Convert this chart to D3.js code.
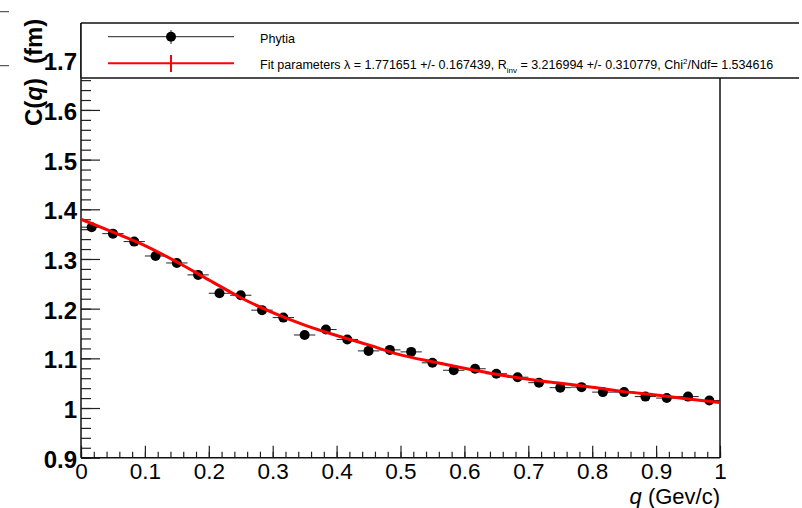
<!DOCTYPE html>
<html>
<head>
<meta charset="utf-8">
<script src="https://cdn.jsdelivr.net/npm/d3@7"></script>
<style>
  body { margin: 0; background: #fff; }
  svg { display: block; font-family: "Liberation Sans", Arial, sans-serif; }
</style>
</head>
<body>
<div id="chart"></div>
<script>
// histogram bin centres (q, GeV/c) and measured correlation C(q)
var qValues = [0.0167, 0.05, 0.0833, 0.1167, 0.15, 0.1833, 0.2167, 0.25, 0.2833, 0.3167,
               0.35, 0.3833, 0.4167, 0.45, 0.4833, 0.5167, 0.55, 0.5833, 0.6167, 0.65,
               0.6833, 0.7167, 0.75, 0.7833, 0.8167, 0.85, 0.8833, 0.9167, 0.95, 0.9833];
var cValues = [1.364, 1.351, 1.335, 1.306, 1.292, 1.268, 1.231, 1.227, 1.197, 1.182,
               1.147, 1.158, 1.138, 1.115, 1.117, 1.113, 1.091, 1.076, 1.079, 1.069,
               1.062, 1.051, 1.041, 1.042, 1.032, 1.032, 1.023, 1.020, 1.023, 1.015];
var qHalfWidth = 0.0167;

// fit curve
var fitQ = [0, 0.05, 0.1, 0.15, 0.2, 0.25, 0.3, 0.35, 0.4, 0.45, 0.5,
            0.55, 0.6, 0.65, 0.7, 0.75, 0.8, 0.85, 0.9, 0.95, 1.0];
var fitC = [1.380, 1.354, 1.327, 1.294, 1.258, 1.222, 1.192, 1.167, 1.146, 1.127, 1.107,
            1.093, 1.080, 1.068, 1.058, 1.050, 1.042, 1.033, 1.026, 1.018, 1.011];

var xMajor = [0, 0.1, 0.2, 0.3, 0.4, 0.5, 0.6, 0.7, 0.8, 0.9, 1];
var xMinor = d3.range(0, 1.0001, 0.02);
var yMajor = [0.9, 1, 1.1, 1.2, 1.3, 1.4, 1.5, 1.6, 1.7];
var yMinor = d3.range(0.9, 1.775, 0.02);

var legendLabels = ["Phytia", "Fit parameters"];

var W = 802, H = 508;
var frame = {left: 81, right: 720, top: 23, bottom: 457.7};

var svg = d3.select('#chart').append('svg')
    .attr('width', W).attr('height', H);

var x = d3.scaleLinear().domain([0, 1]).range([frame.left, frame.right]);
var y = d3.scaleLinear().domain([0.9, 1.775]).range([frame.bottom, frame.top]);

// stray marks at the left edge
svg.append('line').attr('x1', 0).attr('x2', 9).attr('y1', 11.7).attr('y2', 11.7)
    .attr('stroke', '#333').attr('stroke-width', 1);
svg.append('line').attr('x1', 0).attr('x2', 9).attr('y1', 65.7).attr('y2', 65.7)
    .attr('stroke', '#333').attr('stroke-width', 1);

/**
 *  AXES
 */
var axisStyle = function(g) {
    g.select('.domain').remove();
    g.selectAll('.tick line').attr('stroke', '#222').attr('stroke-width', 1.2);
}

var $xMinor = svg.append('g')
    .attr('transform', 'translate(0,' + frame.bottom + ')')
    .call(d3.axisBottom(x).tickValues(xMinor).tickSize(-6).tickFormat(''))
    .call(axisStyle);

var $xMajor = svg.append('g')
    .attr('transform', 'translate(0,' + frame.bottom + ')')
    .call(d3.axisBottom(x).tickValues(xMajor).tickSize(-12).tickPadding(5.5)
          .tickFormat(function(d) { return d3.format('')(+d.toFixed(1)); }))
    .call(axisStyle);
$xMajor.selectAll('text')
    .attr('fill', '#000')
    .style('font-size', '22.5px')
    .style('font-family', '"Liberation Sans", Arial, sans-serif');

var $yMinor = svg.append('g')
    .attr('transform', 'translate(' + frame.left + ',0)')
    .call(d3.axisLeft(y).tickValues(yMinor).tickSize(-10).tickFormat(''))
    .call(axisStyle);

var $yMajor = svg.append('g')
    .attr('transform', 'translate(' + frame.left + ',0)')
    .call(d3.axisLeft(y).tickValues(yMajor).tickSize(-19).tickPadding(4)
          .tickFormat(function(d) { return d3.format('')(+d.toFixed(1)); }))
    .call(axisStyle);
$yMajor.selectAll('text')
    .attr('fill', '#000')
    .attr('dy', '0.4em')
    .style('font-size', '24px')
    .style('font-weight', 'bold')
    .style('font-family', '"Liberation Sans", Arial, sans-serif');

// frame
var frameLine = function(x1, y1, x2, y2) {
    svg.append('line').attr('x1', x1).attr('y1', y1).attr('x2', x2).attr('y2', y2)
        .attr('stroke', '#111').attr('stroke-width', 1.5);
}
frameLine(frame.left, frame.top, frame.left, frame.bottom);
frameLine(frame.left, frame.bottom, frame.right, frame.bottom);
frameLine(frame.right, frame.top, frame.right, frame.bottom);

/**
 *  DATA
 */
var points = qValues.map(function(q, i) { return {q: q, c: cValues[i]}; });

svg.append('g').selectAll('line')
    .data(points).enter().append('line')
        .attr('x1', function(d) { return x(d.q - qHalfWidth); })
        .attr('x2', function(d) { return x(d.q + qHalfWidth); })
        .attr('y1', function(d) { return y(d.c); })
        .attr('y2', function(d) { return y(d.c); })
        .attr('stroke', '#222').attr('stroke-width', 1);

svg.append('g').selectAll('circle')
    .data(points).enter().append('circle')
        .attr('cx', function(d) { return x(d.q); })
        .attr('cy', function(d) { return y(d.c); })
        .attr('r', 5)
        .attr('fill', '#000');

var fitLine = d3.line()
    .x(function(d, i) { return x(fitQ[i]); })
    .y(function(d) { return y(d); })
    .curve(d3.curveMonotoneX);

svg.append('path')
    .attr('d', fitLine(fitC))
    .attr('fill', 'none')
    .attr('stroke', '#f00')
    .attr('stroke-width', 3);

/**
 *  LEGEND
 */
var $leg = svg.append('g');
$leg.append('rect')
    .attr('x', frame.left).attr('y', 23).attr('width', 720).attr('height', 55)
    .attr('fill', '#fff');
$leg.append('line').attr('x1', frame.left).attr('x2', 799).attr('y1', 23).attr('y2', 23)
    .attr('stroke', '#111').attr('stroke-width', 1.5);
$leg.append('line').attr('x1', frame.left).attr('x2', 799).attr('y1', 78).attr('y2', 78)
    .attr('stroke', '#111').attr('stroke-width', 1.5);
$leg.append('line').attr('x1', frame.left).attr('x2', frame.left).attr('y1', 23).attr('y2', 78)
    .attr('stroke', '#111').attr('stroke-width', 1.5);

// entry 1: data
$leg.append('line').attr('x1', 108).attr('x2', 234).attr('y1', 36.7).attr('y2', 36.7)
    .attr('stroke', '#222').attr('stroke-width', 1);
$leg.append('line').attr('x1', 171).attr('x2', 171).attr('y1', 30).attr('y2', 44)
    .attr('stroke', '#222').attr('stroke-width', 1);
$leg.append('circle').attr('cx', 171).attr('cy', 36.7).attr('r', 5).attr('fill', '#000');
$leg.append('text').attr('x', 260).attr('y', 43)
    .style('font-size', '12.6px').text(legendLabels[0]);

// entry 2: fit
$leg.append('line').attr('x1', 108).attr('x2', 234).attr('y1', 63.3).attr('y2', 63.3)
    .attr('stroke', '#f00').attr('stroke-width', 2);
$leg.append('line').attr('x1', 171).attr('x2', 171).attr('y1', 55).attr('y2', 72)
    .attr('stroke', '#f00').attr('stroke-width', 2);
var $t = $leg.append('text').attr('x', 260).attr('y', 69).style('font-size', '12.5px');
$t.append('tspan').text(legendLabels[1] + ' \u03bb = 1.771651 +/- 0.167439, R');
$t.append('tspan').attr('dy', 4).style('font-size', '8px').text('inv');
$t.append('tspan').attr('dy', -4).text(' = 3.216994 +/- 0.310779, Chi');
$t.append('tspan').attr('dy', -5).style('font-size', '8px').text('2');
$t.append('tspan').attr('dy', 5).text('/Ndf= 1.534616');

/**
 *  TITLES
 */
var $yt = svg.append('text')
    .attr('transform', 'translate(42,126) rotate(-90)')
    .style('font-size', '24px').style('font-weight', 'bold');
$yt.append('tspan').text('C(');
$yt.append('tspan').style('font-style', 'italic').text('q');
$yt.append('tspan').text(')');
$yt.append('tspan').attr('dx', 14).text('(fm)');

var $xt = svg.append('text')
    .attr('x', frame.right).attr('y', 503.5)
    .attr('text-anchor', 'end')
    .style('font-size', '22px');
$xt.append('tspan').style('font-style', 'italic').text('q');
$xt.append('tspan').text(' (Gev/c)');
</script>
</body>
</html>
